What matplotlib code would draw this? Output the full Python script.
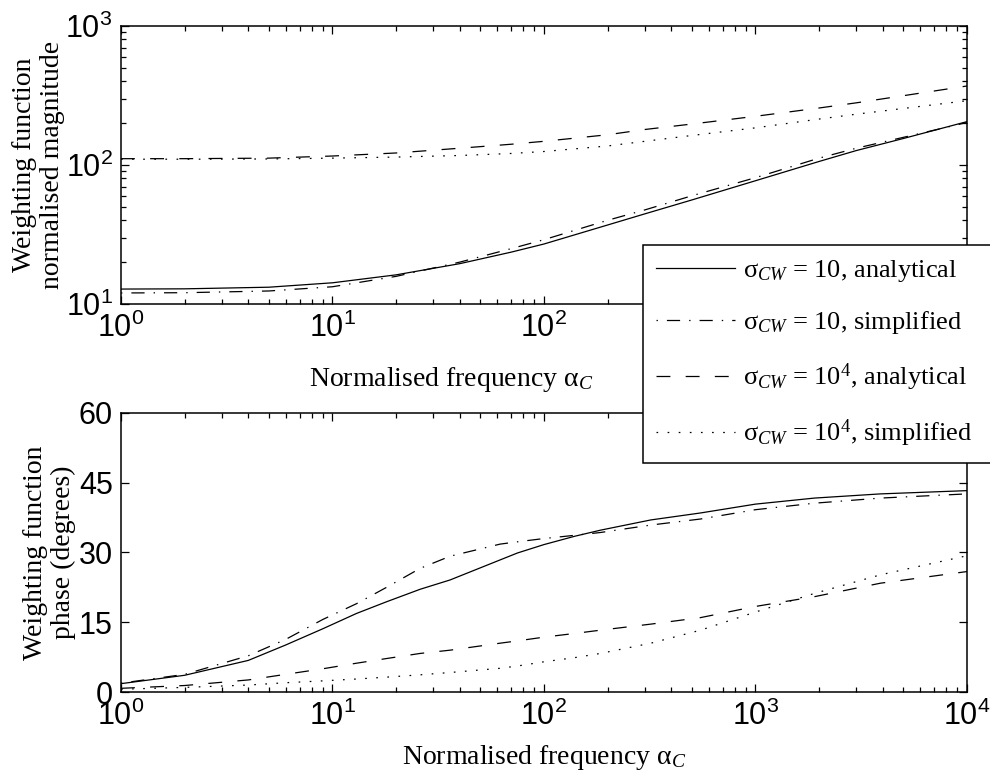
import numpy as np
import matplotlib
matplotlib.use("Agg")
import matplotlib.pyplot as plt
from matplotlib.ticker import LogLocator, FixedLocator, NullFormatter

plt.rcParams['font.family'] = ['Liberation Sans', 'DejaVu Sans']
plt.rcParams['mathtext.fontset'] = 'custom'
plt.rcParams['mathtext.rm'] = 'Liberation Serif'
plt.rcParams['mathtext.it'] = 'Liberation Serif:italic'
plt.rcParams['lines.scale_dashes'] = False

# ---------------- data ----------------
freq_top = [1, 2, 5, 10, 20, 40, 70, 100, 200, 300, 500, 1000, 2000, 3000, 5000, 10000]
mag_s10_analytical = [12.8, 12.85, 13.2, 14.2, 16.2, 19.5, 23.6, 27.0, 37.0, 44.5, 56, 77, 106, 127, 155, 205]
mag_s10_simplified = [12.0, 12.05, 12.4, 13.3, 15.8, 20.0, 25.0, 29.0, 40.0, 47.5, 60, 81, 112, 132, 158, 202]
mag_s1e4_analytical = [111, 111, 112, 116, 122, 132, 141, 148, 165, 180, 197, 224, 257, 280, 315, 370]
mag_s1e4_simplified = [110, 110, 110.5, 112, 114, 117, 121, 125, 137, 148, 163, 185, 214, 232, 255, 290]

freq_bot = [1, 2, 4, 6, 9, 13, 18, 26, 36, 62, 75, 100, 140, 185, 320, 550, 1000, 1900, 3900, 10000]
ph_s10_analytical = [1.8, 3.6, 6.8, 10.1, 13.6, 16.9, 19.4, 22.1, 24.1, 28.4, 29.9, 31.7, 33.5, 34.8, 37.0, 38.5, 40.4, 41.7, 42.6, 43.3]
ph_s10_simplified = [1.9, 3.8, 7.8, 11.3, 15.6, 19.0, 22.5, 26.6, 29.2, 31.8, 32.3, 33.0, 33.7, 34.3, 35.9, 37.2, 39.2, 40.6, 41.7, 42.6]
ph_s1e4_analytical = [0.8, 1.4, 2.6, 3.8, 5.0, 6.2, 7.2, 8.3, 9.0, 10.5, 11.0, 11.8, 12.6, 13.3, 14.6, 16.0, 18.4, 20.5, 23.4, 25.9]
ph_s1e4_simplified = [0.6, 1.0, 1.5, 2.0, 2.4, 2.8, 3.2, 3.7, 4.2, 5.1, 5.6, 6.5, 7.4, 8.3, 10.5, 13.3, 17.2, 21.2, 25.2, 29.3]

labels = ['σ$_{CW}$ = 10, analytical',
          'σ$_{CW}$ = 10, simplified',
          'σ$_{CW}$ = 10$^{4}$, analytical',
          'σ$_{CW}$ = 10$^{4}$, simplified']

styles = [dict(linestyle='-'),
          dict(linestyle=(16, (9.5, 6.5, 1, 6.5))),
          dict(linestyle=(0, (10, 11))),
          dict(linestyle=(0, (1.2, 6.8)))]

serif = 'Liberation Serif'
FS = 20
TFS = 22

fig = plt.figure(figsize=(9.9, 7.78), dpi=100)
ax1 = fig.add_axes([0.1222, 0.6093, 0.8545, 0.3573])
ax2 = fig.add_axes([0.1222, 0.1105, 0.8545, 0.3587])

top_series = [mag_s10_analytical, mag_s10_simplified, mag_s1e4_analytical, mag_s1e4_simplified]
bot_series = [ph_s10_analytical, ph_s10_simplified, ph_s1e4_analytical, ph_s1e4_simplified]

handles = []
for ys, st, lab in zip(top_series, styles, labels):
    h, = ax1.plot(freq_top, ys, color='black', lw=0.9, label=lab, **st)
    handles.append(h)
for ys, st in zip(bot_series, styles):
    ax2.plot(freq_bot, ys, color='black', lw=0.9, **st)

for ax in (ax1, ax2):
    ax.set_xscale('log')
    ax.set_xlim(1, 1e4)
    ax.xaxis.set_major_locator(LogLocator(base=10, numticks=10))
    ax.xaxis.set_minor_locator(LogLocator(base=10, subs=np.arange(2, 10), numticks=20))
    ax.xaxis.set_minor_formatter(NullFormatter())
    ax.tick_params(which='both', direction='in', top=True, right=True, labelsize=TFS, width=0.9)
    ax.tick_params(which='major', length=6, pad=6)
    ax.tick_params(which='minor', length=3.5)
    for sp in ax.spines.values():
        sp.set_linewidth(1.1)

ax1.set_xlabel('Normalised frequency α$_{C}$', fontfamily=serif, fontsize=FS)
ax1.xaxis.set_label_coords(0.39, -0.22)
ax2.set_xlabel('Normalised frequency α$_{C}$', fontfamily=serif, fontsize=FS)
ax2.xaxis.set_label_coords(0.5, -0.183)

ax1.set_yscale('log')
ax1.set_ylim(10, 1000)
ax1.yaxis.set_minor_locator(LogLocator(base=10, subs=np.arange(2, 10), numticks=20))
ax1.yaxis.set_minor_formatter(NullFormatter())
ax1.set_ylabel('Weighting function\nnormalised magnitude', fontfamily=serif, fontsize=FS, linespacing=1.15)
ax1.yaxis.set_label_coords(-0.066, 0.5)

ax2.set_ylim(0, 60)
ax2.yaxis.set_major_locator(FixedLocator([0, 15, 30, 45, 60]))
ax2.set_ylabel('Weighting function\nphase (degrees)', fontfamily=serif, fontsize=FS, linespacing=1.15)
ax2.yaxis.set_label_coords(-0.053, 0.5)

leg = fig.legend(handles=handles, loc='upper left', bbox_to_anchor=(0.6495, 0.4023, 0.36, 0.2827),
                 mode='expand',
                 prop={'family': serif, 'size': 19}, frameon=True, fancybox=False,
                 framealpha=1, edgecolor='black', handlelength=3.0, handletextpad=0.3,
                 labelspacing=0.95, borderpad=0.5, borderaxespad=0)
leg.get_frame().set_linewidth(1.1)

fig.savefig('out.png', dpi=100)
